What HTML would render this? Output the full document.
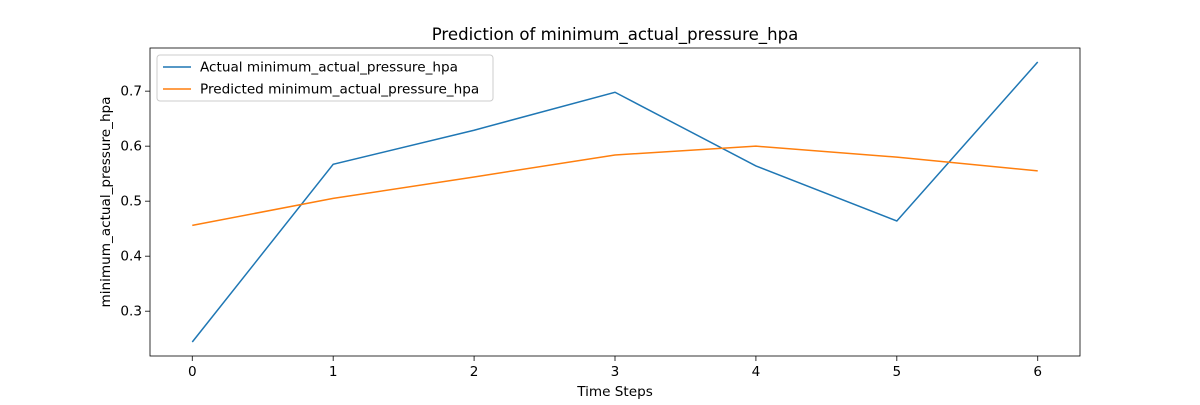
<!DOCTYPE html>
<html><head><meta charset="utf-8"><style>
body{margin:0;background:#fff;width:1200px;height:400px;overflow:hidden}
svg text{font-family:"DejaVu Sans","Liberation Sans",sans-serif;fill:#000}
</style></head><body>
<svg id="chart" width="1200" height="400" xmlns="http://www.w3.org/2000/svg"></svg>
<script>
const categories=[0,1,2,3,4,5,6];
const actualValues=[0.244,0.567,0.629,0.698,0.564,0.464,0.753];
const predictedValues=[0.456,0.505,0.544,0.584,0.600,0.580,0.555];
const yTicks=[0.3,0.4,0.5,0.6,0.7];
const xTicks=[0,1,2,3,4,5,6];

const svg=document.getElementById('chart');
const NS='http://www.w3.org/2000/svg';
const L=150,R=1080,T=48,B=356;
const all=actualValues.concat(predictedValues);
const ymin=Math.min(...all),ymax=Math.max(...all),pad=(ymax-ymin)*0.05;
const y0=ymin-pad,y1=ymax+pad;
const xmin=Math.min(...categories),xmax=Math.max(...categories),xp=(xmax-xmin)*0.05;
const x=v=>L+(v-(xmin-xp))/((xmax+xp)-(xmin-xp))*(R-L);
const y=v=>B-(v-y0)/(y1-y0)*(B-T);
function el(tag,attrs,name,text){const e=document.createElementNS(NS,tag);for(const k in attrs)e.setAttribute(k,attrs[k]);


if(text!==undefined)e.textContent=text;svg.appendChild(e);return e;}
el('text',{x:615,y:40,'text-anchor':'middle','font-size':16.6},'chart-title','Prediction of minimum_actual_pressure_hpa');
xTicks.forEach(t=>{const px=x(t);el('line',{x1:px,x2:px,y1:B,y2:B+5,stroke:'#000','stroke-width':0.8},'x-tick');
el('text',{x:px,y:B+20,'text-anchor':'middle','font-size':13.6},'x-tick-label',String(t));});
yTicks.forEach(t=>{const py=y(t);el('line',{x1:L-5,x2:L,y1:py,y2:py,stroke:'#000','stroke-width':0.8},'y-tick');
el('text',{x:L-8,y:py+4.5,'text-anchor':'end','font-size':13.6},'y-tick-label',t.toFixed(1));});
el('text',{x:615,y:396,'text-anchor':'middle','font-size':13.6},'x-axis-title','Time Steps');
el('text',{x:0,y:0,'text-anchor':'middle','font-size':13.6,transform:'translate(110,202) rotate(-90)'},'y-axis-title','minimum_actual_pressure_hpa');
function line(vals,color,name){el('polyline',{points:vals.map((v,i)=>x(categories[i])+','+y(v)).join(' '),fill:'none',stroke:color,'stroke-width':1.5},name);}
line(actualValues,'#1f77b4','actual-line');
line(predictedValues,'#ff7f0e','predicted-line');
el('rect',{x:L,y:T,width:R-L,height:B-T,fill:'none',stroke:'#000','stroke-width':0.8},'plot-frame');
el('rect',{x:157,y:55,width:336,height:46,rx:3,fill:'#fff','fill-opacity':0.8,stroke:'#ccc','stroke-width':1},'legend');
el('line',{x1:163,x2:191,y1:67,y2:67,stroke:'#1f77b4','stroke-width':1.5},'legend-actual-swatch');
el('text',{x:200,y:71.5,'font-size':13.6},'legend-actual-label','Actual minimum_actual_pressure_hpa');
el('line',{x1:163,x2:191,y1:89,y2:89,stroke:'#ff7f0e','stroke-width':1.5},'legend-predicted-swatch');
el('text',{x:200,y:93.5,'font-size':13.6},'legend-predicted-label','Predicted minimum_actual_pressure_hpa');
</script>
</body></html>
